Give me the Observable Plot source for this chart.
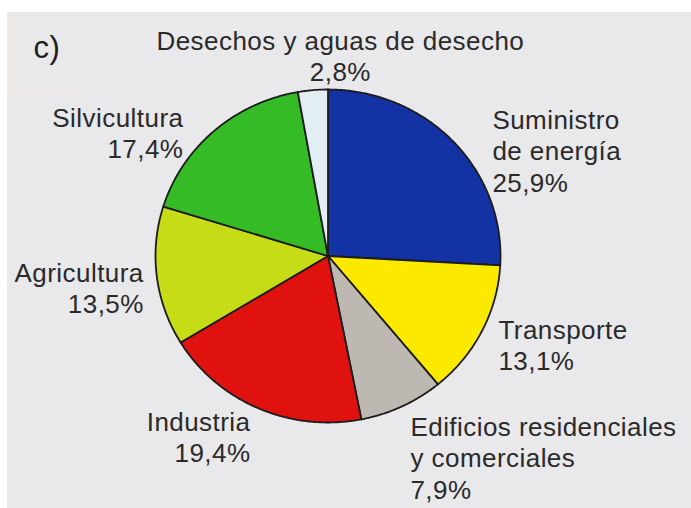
<!DOCTYPE html>
<html>
<head>
<meta charset="utf-8">
<script src="https://cdn.jsdelivr.net/npm/d3@7"></script>
<script src="https://cdn.jsdelivr.net/npm/@observablehq/plot@0.6"></script>
<style>
  body { margin: 0; background: #ffffff; }
  #wrap { position: relative; padding: 12px 0 0 7px; width: 684px; }
  #panel { position: absolute; left: 10px; top: 12px; width: 80px; height: 81px;
           border: 1px solid #f3e5d8; border-top: none; box-sizing: border-box; pointer-events: none; }
  svg { display: block; }
</style>
</head>
<body>
<div id="wrap"><div id="panel"></div></div>
<script>
// ---- data ----
const categories = [
  "Suministro de energía",
  "Transporte",
  "Edificios residenciales y comerciales",
  "Industria",
  "Agricultura",
  "Silvicultura",
  "Desechos y aguas de desecho"
];
const shares = [25.9, 13.1, 7.9, 19.4, 13.5, 17.4, 2.8];
const labelNames = [
  "Suministro\nde energía",
  "Transporte",
  "Edificios residenciales\ny comerciales",
  "Industria",
  "Agricultura",
  "Silvicultura",
  "Desechos y aguas de desecho"
];
const panelLabel = "c)";

// ---- styles / layout ----
const colors = ["#1332a4", "#fbe900", "#bdb9b2", "#e0120f", "#c6dc16", "#34bb26", "#e3eef4"];
const labelAnchor = ["start", "start", "start", "end", "end", "end", "middle"];
const labelDx = [39, 16.5, 8.5, -8, -13, -30.5, 27.5];   // px offset from rim at mid-angle
const labelDy = [-34.6, -14, 7.6, 0.7, -17, -26, -62];

const xRange = [148, 493], yRange = [410, 77];
const pxPerX = (xRange[1] - xRange[0]) / 2, pxPerY = (yRange[0] - yRange[1]) / 2;

// ---- geometry from data ----
const total = d3.sum(shares);
let acc = 0;
const slices = shares.map((v, i) => {
  const a0 = acc / total * 2 * Math.PI; acc += v;
  const a1 = acc / total * 2 * Math.PI;
  return {i, a0, a1, mid: (a0 + a1) / 2};
});
const pts = [];
for (const s of slices) {
  const cat = categories[s.i];
  pts.push({cat, x: 0, y: 0});
  const n = Math.max(2, Math.ceil((s.a1 - s.a0) / (Math.PI / 360)));
  for (let k = 0; k <= n; k++) {
    const a = s.a0 + (s.a1 - s.a0) * k / n;
    pts.push({cat, x: Math.sin(a), y: Math.cos(a)});
  }
  pts.push({cat, x: 0, y: 0});
}
const fmt = v => v.toFixed(1).replace(".", ",") + "%";
const labels = slices.map(s => ({
  anchor: labelAnchor[s.i],
  text: labelNames[s.i] + "\n" + fmt(shares[s.i]),
  x: Math.sin(s.mid) + labelDx[s.i] / pxPerX,
  y: Math.cos(s.mid) - labelDy[s.i] / pxPerY
}));

const textOpts = {x: "x", y: "y", text: "text", lineAnchor: "top", lineHeight: 1.2, fontSize: 26, fill: "#2a2a2a"};

const chart = Plot.plot({
  width: 684,
  height: 496,
  margin: 0,
  x: {domain: [-1, 1], range: xRange, axis: null},
  y: {domain: [-1, 1], range: yRange, axis: null},
  color: {domain: categories, range: colors},
  style: {background: "#e9e8ea", fontFamily: "'Liberation Sans', Arial, sans-serif", letterSpacing: "0.45px", overflow: "visible"},
  marks: [
    Plot.line(pts, {x: "x", y: "y", z: "cat", fill: "cat", stroke: "#1c1c1c", strokeWidth: 1.8, strokeLinejoin: "round", curve: "linear"}),
    Plot.text(labels.filter(d => d.anchor === "start"), {...textOpts, textAnchor: "start"}),
    Plot.text(labels.filter(d => d.anchor === "end"), {...textOpts, textAnchor: "end"}),
    Plot.text(labels.filter(d => d.anchor === "middle"), {...textOpts, textAnchor: "middle"}),
    Plot.text([panelLabel], {frameAnchor: "top-left", text: d => d, dx: 26, dy: 23, lineAnchor: "top", textAnchor: "start", fontSize: 31, fill: "#1e1e1e"})
  ]
});
document.getElementById("wrap").appendChild(chart);
</script>
</body>
</html>
